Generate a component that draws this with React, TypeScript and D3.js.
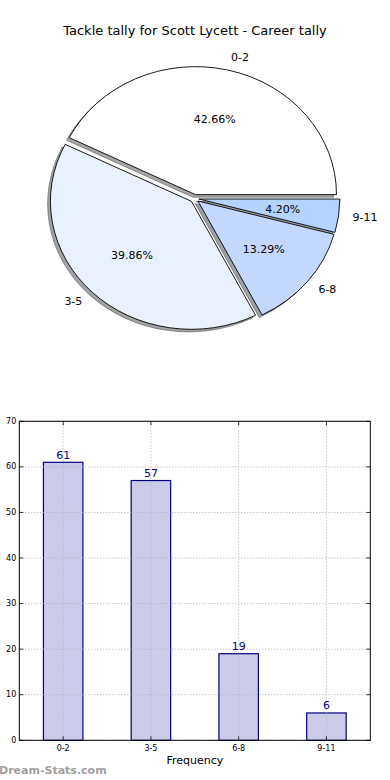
import React from "react";
import * as d3 from "d3";

const title = "Tackle tally for Scott Lycett - Career tally";
const categories = ["0-2", "3-5", "6-8", "9-11"];
const counts = [61, 57, 19, 6];
const pieColors = ["#ffffff", "#eaf1fe", "#c4d8ff", "#b2d4ff"];
const yTicks = [0, 10, 20, 30, 40, 50, 60, 70];
const xLabel = "Frequency";
const watermark = "Dream-Stats.com";

const W = 390;
const H = 780;
const FONT = "DejaVu Sans, sans-serif";

export default function App() {
  // Pie geometry
  const cx = 194.5, cy = 198.5, rx = 141, ry = 128;
  const explode = 0.031;
  const total = d3.sum(counts);
  const arcs = d3.pie<number>().sort(null).value((d) => d).startAngle(0).endAngle(2 * Math.PI)(counts);

  const pt = (a: number, r: number, ox: number, oy: number) => [
    ox + r * rx * Math.cos(a),
    oy - r * ry * Math.sin(a),
  ];

  const wedges = arcs.map((a, i) => {
    const mid = (a.startAngle + a.endAngle) / 2;
    const ox = cx + explode * rx * Math.cos(mid);
    const oy = cy - explode * ry * Math.sin(mid);
    const p0 = pt(a.startAngle, 1, ox, oy);
    const p1 = pt(a.endAngle, 1, ox, oy);
    const large = a.endAngle - a.startAngle > Math.PI ? 1 : 0;
    const path = `M${ox},${oy}L${p0[0]},${p0[1]}A${rx},${ry} 0 ${large} 0 ${p1[0]},${p1[1]}Z`;
    const lab = pt(mid, 1.1, ox, oy);
    const pct = pt(mid, 0.6, ox, oy);
    const c = d3.rgb(pieColors[i]);
    const shadow = d3.rgb(c.r * 0.3, c.g * 0.3, c.b * 0.3).toString();
    return { path, lab, pct, mid, shadow, i, pctText: ((counts[i] / total) * 100).toFixed(2) + "%" };
  });
  const sdx = -0.02 * rx, sdy = 0.02 * ry;

  // Bar chart geometry
  const left = 19.3, right = 370.3, top = 421.3, bottom = 740.3;
  const x = d3.scaleLinear().domain([-0.5, categories.length - 0.5]).range([left, right]);
  const y = d3.scaleLinear().domain([0, 70]).range([bottom, top]);
  const bw = x(0.45) - x(0);

  return (
    <svg width={W} height={H} style={{ position: "absolute", left: 0, top: 0, background: "#fff" }} fontFamily={FONT}>
      <rect x={0} y={0} width={W} height={H} fill="#fff" />
      <text x={195} y={34.5} textAnchor="middle" fontSize={13} fill="#000">{title}</text>

      {wedges.map((w) => (
        <path key={"s" + w.i} d={w.path} transform={`translate(${sdx},${sdy})`} fill={w.shadow} fillOpacity={0.5} stroke={w.shadow} strokeOpacity={0.5} strokeWidth={1} />
      ))}
      {wedges.map((w) => (
        <path key={"w" + w.i} d={w.path} fill={pieColors[w.i]} stroke="#000" strokeWidth={0.9} strokeLinejoin="miter" />
      ))}
      {wedges.map((w) => (
        <g key={"t" + w.i} fontSize={11} fill="#000">
          <text x={w.pct[0]} y={w.pct[1]} textAnchor="middle" dominantBaseline="central">{w.pctText}</text>
          <text x={w.lab[0]} y={w.lab[1]} textAnchor={Math.cos(w.mid) > 0 ? "start" : "end"} dominantBaseline="central">{categories[w.i]}</text>
        </g>
      ))}

      {/* bar chart */}
      {categories.map((c, i) => (
        <rect key={"b" + i} x={x(i) - bw / 2} y={y(counts[i])} width={bw} height={y(0) - y(counts[i])} fill="#ccccea" stroke="#00007f" strokeWidth={1.2} />
      ))}
      {yTicks.map((t) => (
        <line key={"gy" + t} x1={left} x2={right} y1={y(t)} y2={y(t)} stroke="#b0b0b0" strokeWidth={1} strokeDasharray="1,2" />
      ))}
      {categories.map((c, i) => (
        <line key={"gx" + i} x1={x(i)} x2={x(i)} y1={top} y2={bottom} stroke="#b0b0b0" strokeWidth={1} strokeDasharray="1,2" />
      ))}
      <rect x={left} y={top} width={right - left} height={bottom - top} fill="none" stroke="#000" strokeWidth={1} />
      {yTicks.map((t) => (
        <g key={"ty" + t}>
          <line x1={left} x2={left + 4} y1={y(t)} y2={y(t)} stroke="#000" strokeWidth={0.8} />
          <line x1={right} x2={right - 4} y1={y(t)} y2={y(t)} stroke="#000" strokeWidth={0.8} />
          <text x={left - 3} y={y(t)} textAnchor="end" dominantBaseline="central" fontSize={8} fill="#000">{t}</text>
        </g>
      ))}
      {categories.map((c, i) => (
        <g key={"tx" + i}>
          <line x1={x(i)} x2={x(i)} y1={bottom} y2={bottom - 4} stroke="#000" strokeWidth={0.8} />
          <line x1={x(i)} x2={x(i)} y1={top} y2={top + 4} stroke="#000" strokeWidth={0.8} />
          <text x={x(i)} y={bottom + 8} textAnchor="middle" dominantBaseline="central" fontSize={8} fill="#000">{c}</text>
          <text x={x(i)} y={y(counts[i]) - 7} textAnchor="middle" dominantBaseline="central" fontSize={11} fill="#00008b">{counts[i]}</text>
        </g>
      ))}
      <text x={(left + right) / 2} y={760} textAnchor="middle" dominantBaseline="central" fontSize={11} fill="#000">{xLabel}</text>
      <text x={-1} y={770.5} dominantBaseline="central" fontSize={11} fontWeight="bold" fill="#a0a0a0">{watermark}</text>
    </svg>
  );
}
